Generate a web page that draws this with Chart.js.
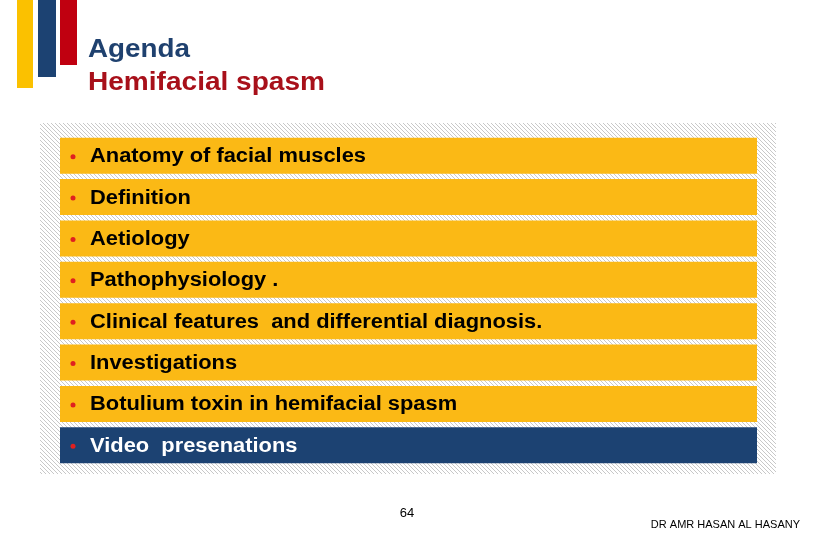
<!DOCTYPE html>
<html><head><meta charset="utf-8">
<script src="https://cdn.jsdelivr.net/npm/chart.js@4"></script>
<style>html,body{margin:0;padding:0;background:#fff}#wrap{width:817px;height:540px;position:relative}</style>
</head><body><div id="wrap"><canvas id="c"></canvas></div>
<script>
// agenda items, one bar each
const items = ['Anatomy of facial muscles', 'Definition', 'Aetiology', 'Pathophysiology .',
  'Clinical features  and differential diagnosis.', 'Investigations',
  'Botulium toxin in hemifacial spasm', 'Video  presenations'];
const values = [1, 1, 1, 1, 1, 1, 1, 1];
const barColors = ['#fbb915', '#fbb915', '#fbb915', '#fbb915', '#fbb915', '#fbb915', '#fbb915', '#1c4272'];
const textColors = ['#000', '#000', '#000', '#000', '#000', '#000', '#000', '#fff'];

const FONT = '"Liberation Sans", Arial, sans-serif';

function hatch(ctx) {
  var p = document.createElement('canvas');
  p.width = 4; p.height = 4;
  var g = p.getContext('2d');
  g.strokeStyle = '#c8c8c8'; g.lineWidth = 1;
  g.beginPath(); g.moveTo(0, 0); g.lineTo(4, 4); g.moveTo(-1, 3); g.lineTo(1, 5); g.moveTo(3, -1); g.lineTo(5, 1); g.stroke();
  return ctx.createPattern(p, 'repeat');
}

// squeeze/stretch text to a target width so it lines up with the slide
function fitText(ctx, t, x, y, w) {
  var m = ctx.measureText(t).width;
  ctx.save();
  ctx.translate(x, y);
  ctx.scale(w / m, 1);
  ctx.fillText(t, 0, 0);
  ctx.restore();
}

new Chart(document.getElementById('c'), {
  type: 'bar',
  data: { labels: items, datasets: [{ data: values, backgroundColor: barColors, borderWidth: 0,
    barPercentage: 0.87, categoryPercentage: 1 }] },
  options: {
    indexAxis: 'y', responsive: true, maintainAspectRatio: false, animation: false,
    layout: { padding: { left: 60, right: 60, top: 135, bottom: 74 } },
    plugins: { legend: { display: false }, tooltip: { enabled: false } },
    scales: { x: { display: false, min: 0, max: 1 }, y: { display: false } }
  },
  plugins: [{
    id: 'slide',
    beforeDatasetsDraw(chart) {
      var ctx = chart.ctx;
      ctx.save();
      ctx.fillStyle = hatch(ctx);
      ctx.fillRect(40, 123, 736, 351);
      ctx.fillStyle = '#fbc100'; ctx.fillRect(17, 0, 16, 88);
      ctx.fillStyle = '#1c4272'; ctx.fillRect(38, 0, 18, 77);
      ctx.fillStyle = '#c00010'; ctx.fillRect(60, 0, 17, 65);
      ctx.font = 'bold 25px ' + FONT;
      ctx.fillStyle = '#1f416f'; fitText(ctx, 'Agenda', 88, 57, 102);
      ctx.fillStyle = '#a8101a'; fitText(ctx, 'Hemifacial spasm', 88, 90, 237);
      ctx.fillStyle = '#000';
      ctx.font = '13px ' + FONT;
      ctx.textAlign = 'center'; ctx.fillText('64', 407, 517);
      ctx.font = '11px ' + FONT;
      ctx.textAlign = 'right'; ctx.fillText('DR AMR HASAN AL HASANY', 800, 528);
      ctx.restore();
    },
    afterDatasetsDraw(chart) {
      var ctx = chart.ctx, ys = chart.scales.y;
      ctx.save();
      ctx.textBaseline = 'middle';
      ctx.font = 'bold 20px ' + FONT;
      var k = 276 / ctx.measureText(items[0]).width;
      items.forEach(function (t, i) {
        var y = ys.getPixelForValue(i);
        ctx.fillStyle = '#e02020';
        ctx.beginPath(); ctx.arc(73, y + 1, 2.5, 0, Math.PI * 2); ctx.fill();
        ctx.fillStyle = textColors[i];
        fitText(ctx, t, 90, y + 1, ctx.measureText(t).width * k);
      });
      ctx.restore();
    }
  }]
});
</script></body></html>
